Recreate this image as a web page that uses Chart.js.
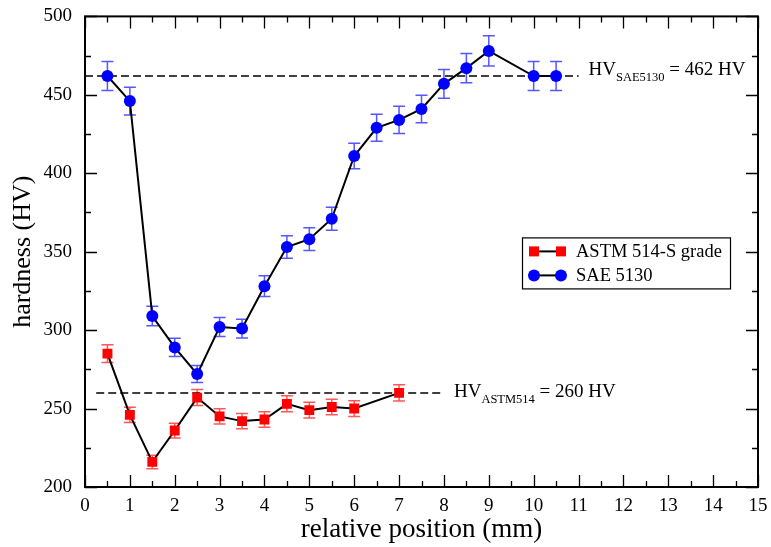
<!DOCTYPE html>
<html>
<head>
<meta charset="utf-8">
<script src="https://cdn.jsdelivr.net/npm/chart.js@4.4.0/dist/chart.umd.min.js"></script>
<style>
  html, body { margin: 0; padding: 0; background: #fff; }
  #wrap { width: 771px; height: 547px; }
</style>
</head>
<body>
<div id="wrap"><canvas id="hardnessChart" width="771" height="547"></canvas></div>
<script>
// -----------------------------
// Data
// -----------------------------
const astmPos = [0.5, 1, 1.5, 2, 2.5, 3, 3.5, 4, 4.5, 5, 5.5, 6, 7];
const astmHV  = [285, 246, 216, 236, 257, 245, 242, 243, 253, 249, 251, 250, 260];
const astmErr = [5.7, 4.9, 4.3, 4.7, 5.1, 4.9, 4.8, 4.9, 5.1, 5.0, 5.0, 5.0, 5.2];

const saePos = [0.5, 1, 1.5, 2, 2.5, 3, 3.5, 4, 4.5, 5, 5.5, 6, 6.5, 7, 7.5, 8, 8.5, 9, 10, 10.5];
const saeHV  = [462, 446, 309, 289, 272, 302, 301, 328, 353, 358, 371, 411, 429, 434, 441, 457, 467, 478, 462, 462];
const saeErr = [9.2, 8.9, 6.2, 5.8, 5.4, 6.0, 6.0, 6.6, 7.1, 7.2, 7.4, 8.2, 8.6, 8.7, 8.8, 9.1, 9.3, 9.6, 9.2, 9.2];

const seriesNames = ["ASTM 514-S grade", "SAE 5130"];

// reference hardness lines: value, x start, x end, label parts
const refHV    = [260, 462];
const refFrom  = [0.25, 0];
const refTo    = [8.0, 11.0];
const refSub   = ["ASTM514", "SAE5130"];
const refTail  = [" = 260 HV", " = 462 HV"];

const xRange = [0, 15];
const yRange = [200, 500];

const FONT = "'Liberation Serif', 'DejaVu Serif', serif";

// -----------------------------
// Error bars + dashed lines (under markers)
// -----------------------------
const errorBars = {
  id: 'errorBars',
  beforeDatasetsDraw(chart) {
    const {ctx, scales: {x, y}} = chart;
    const errs = [astmErr, saeErr];
    const vals = [astmHV, saeHV];
    const cols = ['rgba(255,30,30,0.75)', 'rgba(30,30,255,0.75)'];
    ctx.save();
    ctx.lineWidth = 1.5;
    chart.data.datasets.forEach((ds, d) => {
      const meta = chart.getDatasetMeta(d);
      ctx.strokeStyle = cols[d];
      meta.data.forEach((pt, i) => {
        const top = y.getPixelForValue(vals[d][i] + errs[d][i]);
        const bot = y.getPixelForValue(vals[d][i] - errs[d][i]);
        ctx.beginPath();
        ctx.moveTo(pt.x, top); ctx.lineTo(pt.x, bot);
        ctx.moveTo(pt.x - 6, top); ctx.lineTo(pt.x + 6, top);
        ctx.moveTo(pt.x - 6, bot); ctx.lineTo(pt.x + 6, bot);
        ctx.stroke();
      });
    });

    ctx.strokeStyle = '#000';
    ctx.lineWidth = 1.5;
    ctx.setLineDash([8, 4]);
    refHV.forEach((v, k) => {
      const py = y.getPixelForValue(v);
      ctx.beginPath();
      ctx.moveTo(x.getPixelForValue(refFrom[k]), py);
      ctx.lineTo(x.getPixelForValue(refTo[k]), py);
      ctx.stroke();
    });
    ctx.setLineDash([]);
    ctx.restore();
  },
  afterDraw(chart) {
    const {ctx, scales: {x, y}} = chart;
    const dy = [4, -1];
    ctx.save();
    ctx.fillStyle = '#000';
    ctx.textBaseline = 'alphabetic';
    refHV.forEach((v, k) => {
      let px = x.getPixelForValue(refTo[k]) + 10;
      const py = y.getPixelForValue(v) + dy[k];
      ctx.font = '19px ' + FONT;
      ctx.fillText('HV', px, py);
      px += ctx.measureText('HV').width;
      ctx.font = '12.5px ' + FONT;
      ctx.fillText(refSub[k], px, py + 6);
      px += ctx.measureText(refSub[k]).width;
      ctx.font = '19px ' + FONT;
      ctx.fillText(refTail[k], px, py);
    });
    ctx.restore();
  }
};

// -----------------------------
// Frame, inward ticks, legend
// -----------------------------
const frameAndLegend = {
  id: 'frameAndLegend',
  afterDraw(chart) {
    const {ctx, chartArea: a, scales: {x, y}} = chart;
    ctx.save();
    ctx.strokeStyle = '#000';
    ctx.lineWidth = 1.3;
    ctx.beginPath();
    for (let v = xRange[0]; v <= xRange[1]; v += 0.5) {
      const px = Math.round(x.getPixelForValue(v)) + 0.5;
      const len = v % 1 === 0 ? 12 : 6;
      ctx.moveTo(px, a.bottom); ctx.lineTo(px, a.bottom - len);
      ctx.moveTo(px, a.top); ctx.lineTo(px, a.top + len);
    }
    for (let v = yRange[0]; v <= yRange[1]; v += 25) {
      const py = Math.round(y.getPixelForValue(v)) + 0.5;
      const len = v % 50 === 0 ? 12 : 6;
      ctx.moveTo(a.left, py); ctx.lineTo(a.left + len, py);
      ctx.moveTo(a.right, py); ctx.lineTo(a.right - len, py);
    }
    ctx.stroke();
    ctx.lineWidth = 2;
    ctx.strokeRect(a.left, a.top, a.right - a.left, a.bottom - a.top);

    // legend box
    const lx = a.left + 437, ly = a.top + 221, lw = 208, lh = 51;
    ctx.fillStyle = '#fff';
    ctx.fillRect(lx, ly, lw, lh);
    ctx.lineWidth = 1.2;
    ctx.strokeRect(lx + 0.5, ly + 0.5, lw, lh);
    chart.data.datasets.forEach((ds, d) => {
      const cy = ly + 14 + d * 24;
      const x1 = lx + 12, x2 = lx + 39;
      ctx.strokeStyle = '#000';
      ctx.lineWidth = 2;
      ctx.beginPath(); ctx.moveTo(x1, cy); ctx.lineTo(x2, cy); ctx.stroke();
      ctx.fillStyle = ds.pointBackgroundColor;
      [x1, x2].forEach(px => {
        ctx.beginPath();
        if (ds.pointStyle === 'rect') ctx.rect(px - 5, cy - 5, 10, 10);
        else ctx.arc(px, cy, 6, 0, Math.PI * 2);
        ctx.fill();
      });
      ctx.fillStyle = '#000';
      ctx.font = '18.5px ' + FONT;
      ctx.textBaseline = 'middle';
      ctx.fillText(ds.label, lx + 54, cy + 1);
    });
    ctx.restore();
  }
};

// -----------------------------
// Chart
// -----------------------------
const ctx = document.getElementById('hardnessChart');
new Chart(ctx, {
  type: 'scatter',
  data: {
    datasets: [
      {
        label: seriesNames[0],
        data: astmPos.map((p, i) => ({x: p, y: astmHV[i]})),
        showLine: true,
        borderColor: '#000',
        borderWidth: 2,
        pointStyle: 'rect',
        pointRadius: 7,
        pointBackgroundColor: '#ff0000',
        pointBorderColor: '#ff0000',
        pointBorderWidth: 0
      },
      {
        label: seriesNames[1],
        data: saePos.map((p, i) => ({x: p, y: saeHV[i]})),
        showLine: true,
        borderColor: '#000',
        borderWidth: 2,
        pointStyle: 'circle',
        pointRadius: 6,
        pointBackgroundColor: '#0000ff',
        pointBorderColor: '#0000ff',
        pointBorderWidth: 0
      }
    ]
  },
  options: {
    responsive: false,
    animation: false,
    layout: { padding: { top: 13, right: 13, left: 0, bottom: 0 } },
    plugins: {
      legend: { display: false },
      tooltip: { enabled: false }
    },
    scales: {
      x: {
        type: 'linear',
        min: xRange[0], max: xRange[1],
        grid: { display: false },
        border: { display: false },
        ticks: { stepSize: 1, padding: 0, color: '#000', font: { family: FONT, size: 19 }, maxRotation: 0 },
        title: { display: true, text: 'relative position (mm)', color: '#000',
                 font: { family: FONT, size: 27 }, padding: { top: 0, bottom: 1 } },
        afterFit(scale) { scale.height = 60; }
      },
      y: {
        min: yRange[0], max: yRange[1],
        grid: { display: false },
        border: { display: false },
        ticks: { stepSize: 50, padding: 5, color: '#000', font: { family: FONT, size: 19 } },
        title: { display: true, text: 'hardness (HV)', color: '#000',
                 font: { family: FONT, size: 26 }, padding: { top: 8, bottom: 0 } },
        afterFit(scale) { scale.width = 85; }
      }
    }
  },
  plugins: [errorBars, frameAndLegend]
});
</script>
</body>
</html>
